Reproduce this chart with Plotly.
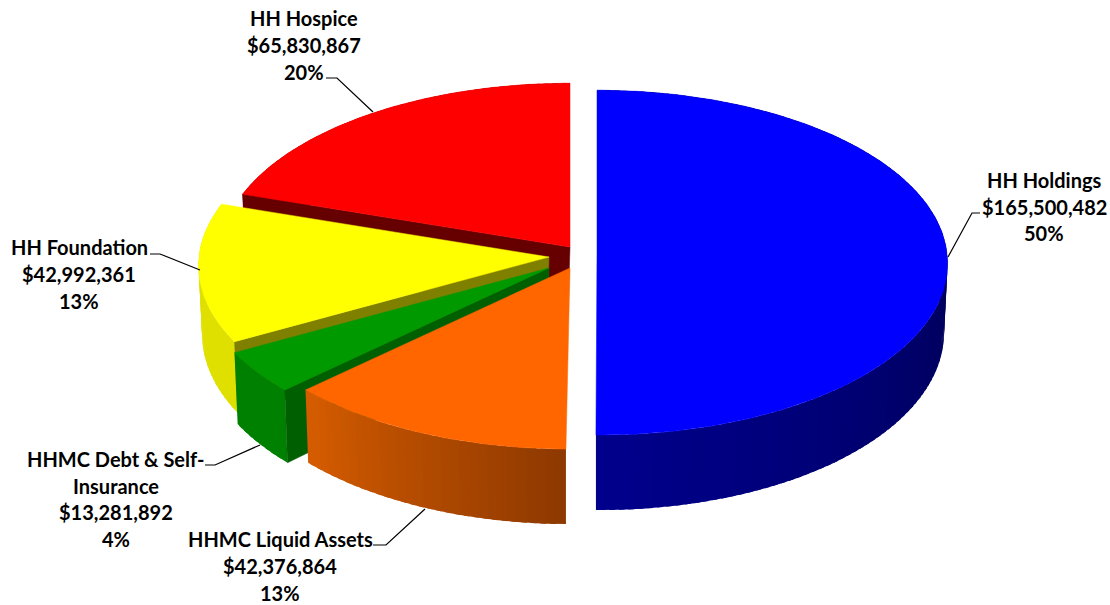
import math
import plotly.graph_objects as go

# ---- data (clockwise from 12 o'clock) ----
names = ["HH Holdings", "HHMC Liquid Assets", "HHMC Debt & Self-Insurance", "HH Foundation", "HH Hospice"]
values = [165500482, 42376864, 13281892, 42992361, 65830867]

# ---- styling and layout ----
W, H = 1110, 605
A, B, K = 350, 172, 0.05          # projected radii and perspective
apex = [(597, 254), (570, 268), (549, 268), (549, 257), (570, 247)]
top_col = ["#0000FF", "#FF6600", "#009900", "#FFFF00", "#FF0000"]
wall_dark = [(0, 0, 88), (140, 56, 0), (0, 128, 0), (224, 224, 0), (170, 0, 0)]
wall_light = [(0, 0, 140), (214, 92, 0), (0, 128, 0), (224, 224, 0), (170, 0, 0)]
cut_col = ["#000080", "#A04000", "#005F00", "#7F7F00", "#660000"]
paint_order = [4, 3, 2, 1, 0]
lean = [-2.5, 0.5, 0, 0, 0]

label_lines = {
    0: (["HH Holdings"], 1044, [180, 207, 233]),
    4: (["HH Hospice"], 304, [18, 45, 72]),
    3: (["HH Foundation"], 79, [247, 274, 301]),
    2: (["HHMC Debt & Self-", "Insurance"], 116, [459, 486, 512, 539]),
    1: (["HHMC Liquid Assets"], 280, [539, 566, 593]),
}
leaders = [
    ([948, 972, 980], [257, 213, 213]),
    ([373, 337, 326], [112, 78, 78]),
    ([200, 160, 150], [270, 254, 254]),
    ([260, 215, 205], [445, 465, 465]),
    ([425, 386, 373], [509, 545, 545]),
]

total = sum(values)


def top_point(i, deg):
    t = math.radians(deg)
    u, v = math.sin(t), math.cos(t)
    s = 1 / (1 + K * v)
    return apex[i][0] + A * u * s + lean[i] * min(v, 0), apex[i][1] - B * v * s, v


def bottom_point(i, deg):
    x, y, v = top_point(i, deg)
    return apex[i][0] + (x - apex[i][0]) * 0.99, y + 68 - 7 * v


def poly(fig, xs, ys, color, lw=0):
    fig.add_trace(go.Scatter(x=xs, y=ys, mode="lines", fill="toself", fillcolor=color,
                             line=dict(color=color, width=lw), hoverinfo="skip", showlegend=False))


def mix(c0, c1, f):
    f = max(0, min(1, f))
    return "rgb(%d,%d,%d)" % tuple(round(a + (b - a) * f) for a, b in zip(c0, c1))


fig = go.Figure()

starts, acc = [], 0.0
for v in values:
    starts.append(acc)
    acc += 360 * v / total

for i in paint_order:
    a0 = starts[i]
    a1 = a0 + 360 * values[i] / total
    # outer wall, shaded in thin overlapping strips, left-to-right light to dark
    n = max(4, int((a1 - a0) / 1.5))
    for j in range(n):
        d0 = a0 + (a1 - a0) * j / n
        d1 = min(a0 + (a1 - a0) * (j + 1.6) / n, a1)
        if i == 0:
            f = (180 - (d0 + d1) / 2) / 90        # 0 at the front, 1 at the right
        else:
            f = 1 - ((d0 + d1) / 2 - a0) / (a1 - a0)
        col = mix(wall_light[i], wall_dark[i], f)
        t0, t1 = top_point(i, d0), top_point(i, d1)
        b0, b1 = bottom_point(i, d0), bottom_point(i, d1)
        poly(fig, [t0[0], t1[0], b1[0], b0[0], t0[0]], [t0[1], t1[1], b1[1], b0[1], t0[1]], col)
    # the cut wall that faces the viewer (left-hand slices only)
    if a0 > 200:
        tx, ty, _ = top_point(i, a0)
        bx, by = bottom_point(i, a0)
        ax, ay = apex[i]
        poly(fig, [ax, tx, bx, ax - 2, ax], [ay, ty, by, ay + 68, ay], cut_col[i], 0.5)
    # top face
    steps = max(8, int(a1 - a0))
    pts = [top_point(i, a0 + (a1 - a0) * j / steps) for j in range(steps + 1)]
    poly(fig, [apex[i][0]] + [p[0] for p in pts] + [apex[i][0]],
         [apex[i][1]] + [p[1] for p in pts] + [apex[i][1]], top_col[i], 0.5)

for lx, ly in leaders:
    fig.add_trace(go.Scatter(x=lx, y=ly, mode="lines", line=dict(color="#000000", width=1.2),
                             hoverinfo="skip", showlegend=False))

annotations = []
for i, (head, cx, ys) in label_lines.items():
    lines = head + [f"${values[i]:,}", f"{round(100 * values[i] / total)}%"]
    for text, y in zip(lines, ys):
        annotations.append(dict(x=cx, y=y, xref="x", yref="y", text=f"<b>{text}</b>", showarrow=False,
                                xanchor="center", yanchor="middle",
                                font=dict(family="Lato", size=20, color="#000000")))

fig.update_layout(
    width=W, height=H, margin=dict(l=0, r=0, t=0, b=0),
    paper_bgcolor="#FFFFFF", plot_bgcolor="#FFFFFF", showlegend=False,
    xaxis=dict(range=[0, W], visible=False, fixedrange=True),
    yaxis=dict(range=[H, 0], visible=False, fixedrange=True),
    annotations=annotations,
)
fig.write_html("out.html", config={"displayModeBar": False},
               post_script="document.body.style.margin='0';document.documentElement.style.overflow='hidden';")
